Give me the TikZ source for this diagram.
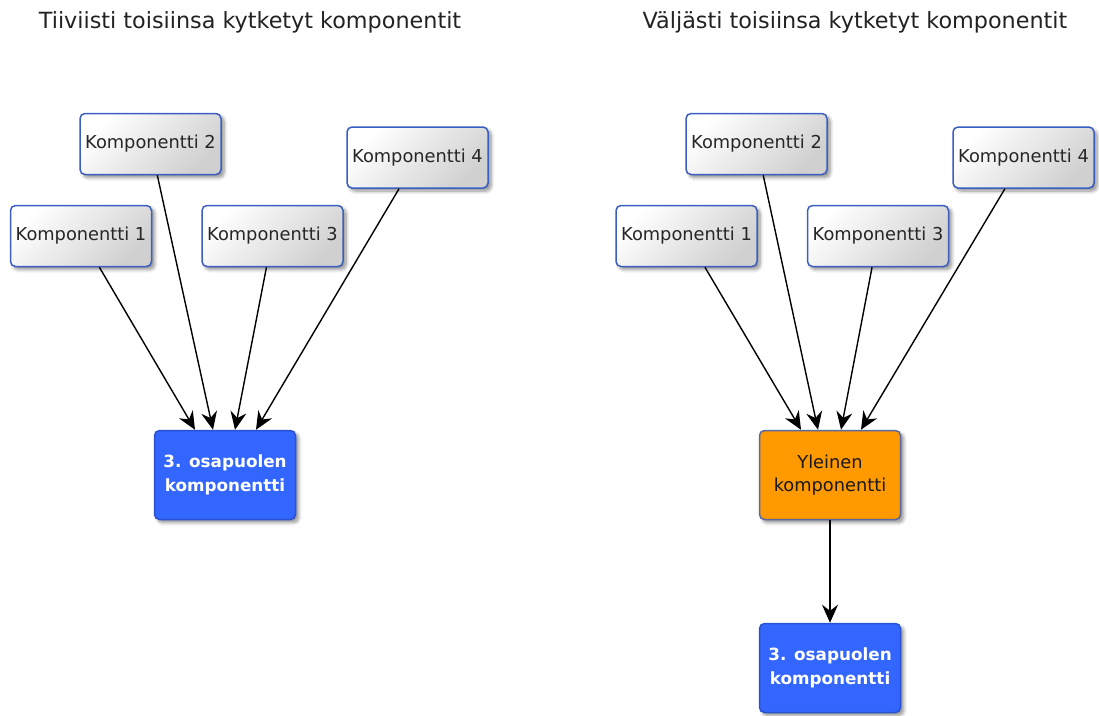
\documentclass[tikz,border=0pt]{standalone}
\usepackage{fontspec}
\setmainfont{DejaVu Sans}
\usetikzlibrary{arrows.meta,shadows.blur}

\definecolor{compborder}{HTML}{3A5EC2}
\definecolor{compgray}{HTML}{D0D0D0}
\definecolor{partyblue}{HTML}{3366FF}
\definecolor{partyborder}{HTML}{2A52D0}
\definecolor{commonorange}{HTML}{FF9900}
\definecolor{commonborder}{HTML}{56689E}
\definecolor{titlegray}{HTML}{222222}

\newcommand\boxfont{\fontsize{17.8}{23}\selectfont}
\newcommand\boldboxfont{\fontsize{16.8}{24}\selectfont\bfseries}
\newcommand\headfont{\fontsize{22.3}{26}\selectfont}

\tikzset{
  softshadow/.style={blur shadow={shadow xshift=3pt, shadow yshift=-3pt,
      shadow blur radius=3.5pt, shadow blur steps=6, shadow opacity=45}},
  comp/.style={draw=compborder, line width=1.5pt, rounded corners=5pt,
      top color=white, bottom color=compgray, shading angle=45,
      minimum width=141pt, minimum height=61pt, inner sep=0pt,
      font=\boxfont, text=black!85, softshadow},
  party/.style={draw=partyborder, line width=1.5pt, rounded corners=5pt,
      fill=partyblue, minimum width=141pt, minimum height=89pt, inner sep=0pt,
      align=center, font=\boldboxfont, text=white, softshadow},
  common/.style={draw=commonborder, line width=1.5pt, rounded corners=5pt,
      fill=commonorange, minimum width=141pt, minimum height=89pt, inner sep=0pt,
      align=center, font=\boxfont, text=black!90, softshadow},
  heading/.style={font=\headfont, text=titlegray, inner sep=0pt},
  link/.style={line width=1.4pt, draw=black,
      -{Stealth[length=18pt,width=16pt,inset=6pt]}}
}

\begin{document}
\begin{tikzpicture}[x=1pt,y=-1pt]
\useasboundingbox (0,0) rectangle (1099,715);

% ---- tightly coupled ----
\node[heading] (tl) at (250,22) {Tiiviisti toisiinsa kytketyt komponentit};
\node[comp] (a2) at (150.5,144) {Komponentti 2};
\node[comp] (a1) at (81,236) {Komponentti 1};
\node[comp] (a3) at (272.5,236) {Komponentti 3};
\node[comp] (a4) at (417.5,157.5) {Komponentti 4};
\node[party] (ap) at (225,475) {3. osapuolen\\komponentti};

\draw[link] (a1) -- ([xshift=-30pt]ap.north);
\draw[link] (a2) -- ([xshift=-12pt]ap.north);
\draw[link] (a3) -- ([xshift=10pt]ap.north);
\draw[link] (a4) -- ([xshift=31pt]ap.north);

% ---- loosely coupled ----
\node[heading] (tr) at (855,22) {Väljästi toisiinsa kytketyt komponentit};
\node[comp] (b2) at (756.5,144) {Komponentti 2};
\node[comp] (b1) at (686.5,236) {Komponentti 1};
\node[comp] (b3) at (878,236) {Komponentti 3};
\node[comp] (b4) at (1023.5,157.5) {Komponentti 4};
\node[common] (bc) at (830,475) {Yleinen\\komponentti};
\node[party] (bp) at (830,668) {3. osapuolen\\komponentti};

\draw[link] (b1) -- ([xshift=-29pt]bc.north);
\draw[link] (b2) -- ([xshift=-12pt]bc.north);
\draw[link] (b3) -- ([xshift=11pt]bc.north);
\draw[link] (b4) -- ([xshift=31pt]bc.north);
\draw[link] (bc) -- (bp);
\end{tikzpicture}
\end{document}
